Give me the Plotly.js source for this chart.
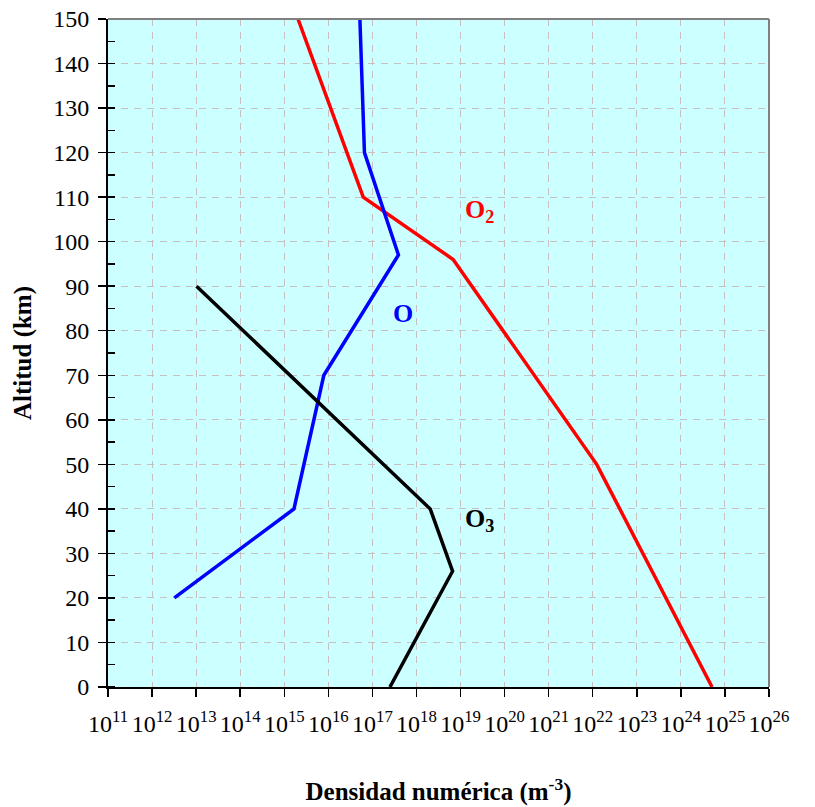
<!DOCTYPE html>
<html>
<head>
<meta charset="utf-8">
<script src="https://cdn.plot.ly/plotly-3.0.1.min.js"></script>
<style>html,body{margin:0;padding:0;background:#fff}#chart{width:815px;height:807px}</style>
</head>
<body>
<div id="chart"></div>
<script>
// O2 number density (m^-3) vs altitude (km)
const o2Alt = [0, 50, 96, 110, 150];
const o2Dens = [5.1e24, 1.23e22, 6.8e18, 6.2e16, 2.05e15];

// O number density
const oAlt = [20, 40, 70, 97, 120, 150];
const oDens = [3.2e12, 1.66e15, 7.9e15, 3.9e17, 6.6e16, 5.2e16];

// O3 number density
const o3Alt = [0, 26, 40, 90];
const o3Dens = [2.5e17, 6.6e18, 2.05e18, 1.02e13];

// tick values / labels
const xTickExp = [11,12,13,14,15,16,17,18,19,20,21,22,23,24,25,26];
const xTickVals = xTickExp.map(e => Math.pow(10, e));
const xTickText = xTickExp.map(e => '10<sup>' + e + '</sup>');
const yTickVals = [0,10,20,30,40,50,60,70,80,90,100,110,120,130,140,150];

// curve labels
const curveLabels = ['O<sub>2</sub>', 'O', 'O<sub>3</sub>'];
const labelColors = ['#FF0000', '#0000FF', '#000000'];

const font = 'Liberation Serif, Times New Roman, serif';

const traces = [
  {x: o2Dens, y: o2Alt, mode: 'lines', line: {color: '#FF0000', width: 3.5}, name: 'O2'},
  {x: oDens, y: oAlt, mode: 'lines', line: {color: '#0000FF', width: 3.5}, name: 'O'},
  {x: o3Dens, y: o3Alt, mode: 'lines', line: {color: '#000000', width: 3.5}, name: 'O3'}
];

const layout = {
  width: 815, height: 807,
  margin: {l: 108, r: 46, t: 19, b: 120},
  paper_bgcolor: '#FFFFFF',
  plot_bgcolor: '#CCFFFF',
  showlegend: false,
  font: {family: font, color: '#000', size: 24},
  xaxis: {
    type: 'log',
    range: [11, 26],
    tickvals: xTickVals,
    ticktext: xTickText,
    ticks: 'outside', ticklen: 8, tickcolor: '#000', tickwidth: 1.5,
    ticklabelstandoff: 6,
    showline: true, linecolor: '#000', linewidth: 2,
    showgrid: true, gridcolor: '#C8C0C0', griddash: '7px,6px', gridwidth: 1,
    zeroline: false,
    tickfont: {family: font, size: 24, color: '#000'},
    title: {text: '<b>Densidad numérica (m<sup>-3</sup>)</b>', font: {family: font, size: 25, color: '#000'}, standoff: 47},
    mirror: false
  },
  yaxis: {
    range: [0, 150],
    tickvals: yTickVals,
    ticks: 'outside', ticklen: 8, tickcolor: '#000', tickwidth: 1.5,
    ticklabelstandoff: 4,
    minor: {dtick: 5, ticks: 'inside', ticklen: 7, tickcolor: '#000', tickwidth: 1.5, showgrid: false},
    showline: true, linecolor: '#000', linewidth: 2,
    showgrid: true, gridcolor: '#C8C0C0', griddash: '7px,6px', gridwidth: 1,
    zeroline: false,
    tickfont: {family: font, size: 24, color: '#000'},
    title: {text: '<b>Altitud (km)</b>', font: {family: font, size: 25, color: '#000'}, standoff: 14}
  },
  shapes: [
    {type: 'line', xref: 'paper', yref: 'paper', x0: 0, x1: 1, y0: 1, y1: 1, line: {color: '#808080', width: 2}},
    {type: 'line', xref: 'paper', yref: 'paper', x0: 1, x1: 1, y0: 0, y1: 1, line: {color: '#808080', width: 2}}
  ],
  annotations: [
    {x: 19.44, y: 106.9, xref: 'x', yref: 'y', text: '<b>' + curveLabels[0] + '</b>', showarrow: false, font: {family: font, size: 26, color: labelColors[0]}},
    {x: 17.69, y: 83.8, xref: 'x', yref: 'y', text: '<b>' + curveLabels[1] + '</b>', showarrow: false, font: {family: font, size: 26, color: labelColors[1]}},
    {x: 19.44, y: 37.5, xref: 'x', yref: 'y', text: '<b>' + curveLabels[2] + '</b>', showarrow: false, font: {family: font, size: 26, color: labelColors[2]}}
  ]
};

Plotly.newPlot('chart', traces, layout, {displayModeBar: false, staticPlot: true});
</script>
</body>
</html>
